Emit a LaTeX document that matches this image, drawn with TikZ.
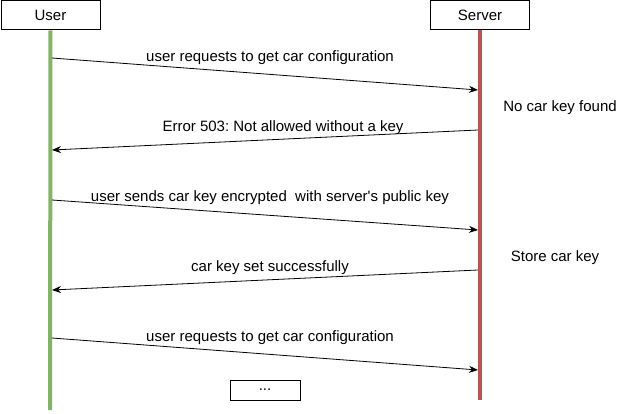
\documentclass[tikz,border=0pt]{standalone}
\usepackage{fontspec}
\setmainfont{Liberation Sans}
\usetikzlibrary{arrows.meta}
\definecolor{lifegreen}{HTML}{82B366}
\definecolor{lifered}{HTML}{B85450}
\frenchspacing
\begin{document}
\begin{tikzpicture}[x=1pt,y=-1pt,
  actor/.style={draw=black,line width=1pt,fill=white,minimum width=99pt,minimum height=29pt,inner sep=0pt,font=\fontsize{15}{18}\selectfont},
  msg/.style={draw=black,line width=0.8pt,-{Stealth[length=9pt,width=7pt]}},
  lbl/.style={inner sep=0pt,font=\fontsize{15}{18}\selectfont},
  life/.style={line width=4pt}]
\useasboundingbox (0,0) rectangle (631,414);
\node[actor] (user) at (50.5,15.5) {User};
\node[actor] (server) at (480,15.5) {Server};
\coordinate (ub) at (50,410);
\coordinate (sb) at (480,400);
\draw[life,lifegreen] (user.south) -- (ub);
\draw[life,lifered] (server.south) -- (sb);
% message endpoints
\coordinate (m1a) at (52,58);  \coordinate (m1b) at (478,90);
\coordinate (m2a) at (478,130); \coordinate (m2b) at (52,150);
\coordinate (m3a) at (52,200); \coordinate (m3b) at (478,230);
\coordinate (m4a) at (478,270); \coordinate (m4b) at (52,290);
\coordinate (m5a) at (52,338); \coordinate (m5b) at (478,370);
\draw[msg] (m1a) -- (m1b);
\draw[msg] (m2a) -- (m2b);
\draw[msg] (m3a) -- (m3b);
\draw[msg] (m4a) -- (m4b);
\draw[msg] (m5a) -- (m5b);
\node[lbl] (l1) at (270,57.5) {user requests to get car configuration};
\node[lbl] (l2) at (283,127.5) {Error 503: Not allowed without a key};
\node[lbl] (l3) at (270,197.5) {user sends car key encrypted\ \ with server\textquotesingle s public key};
\node[lbl] (l4) at (270,267.5) {car key set successfully};
\node[lbl] (l5) at (270,337.5) {user requests to get car configuration};
\node[lbl] (n1) at (560,107.5) {No car key found};
\node[lbl] (n2) at (555,257.5) {Store car key};
\node[draw=black,line width=1pt,minimum width=70pt,minimum height=20pt,inner sep=0pt,font=\fontsize{15}{18}\selectfont] (dots) at (265,390) {...};
\end{tikzpicture}
\end{document}
